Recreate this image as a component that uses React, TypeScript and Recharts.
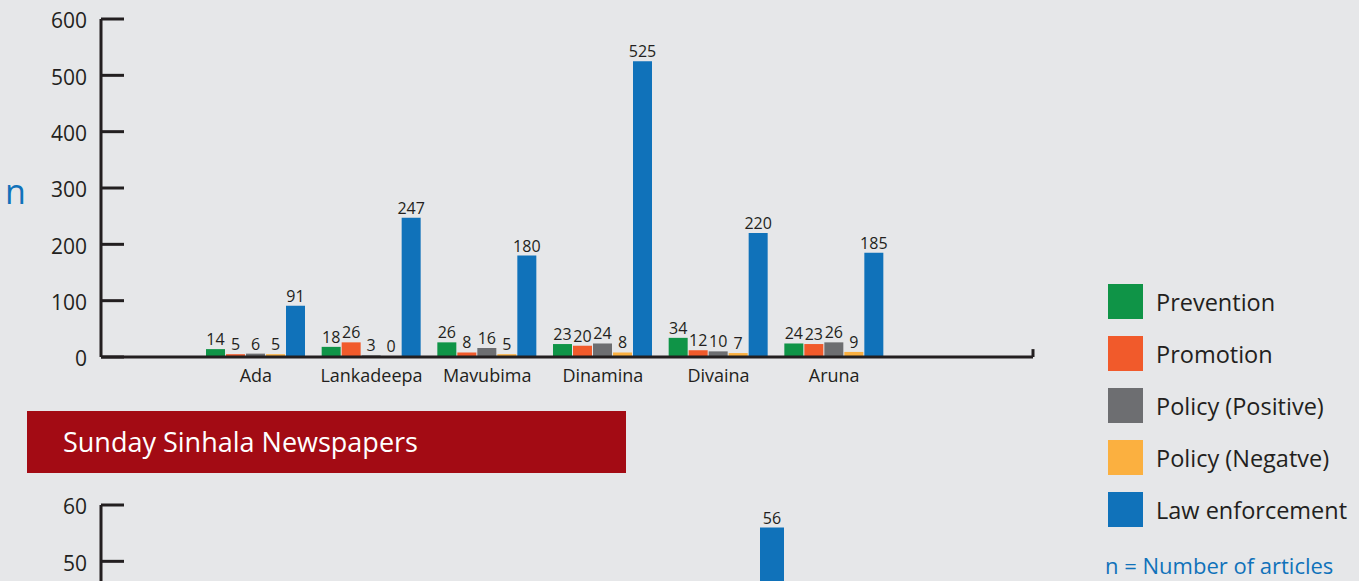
import React from 'react';
import { BarChart, Bar, XAxis, YAxis, LabelList, Legend, ReferenceLine } from 'recharts';

// ---- Data (Daily Sinhala newspapers) ----
const categories = ['Ada', 'Lankadeepa', 'Mavubima', 'Dinamina', 'Divaina', 'Aruna'];
const prevention = [14, 18, 26, 23, 34, 24];
const promotion = [5, 26, 8, 20, 12, 23];
const policyPositive = [6, 3, 16, 24, 10, 26];
const policyNegative = [5, 0, 5, 8, 7, 9];
const lawEnforcement = [91, 247, 180, 525, 220, 185];
const yTicks = [0, 100, 200, 300, 400, 500, 600];

const seriesKeys = ['prevention', 'promotion', 'policyPositive', 'policyNegative', 'lawEnforcement'];
const seriesNames = ['Prevention', 'Promotion', 'Policy (Positive)', 'Policy (Negatve)', 'Law enforcement'];
const seriesColors = ['#0f9447', '#f15a2b', '#6d6e71', '#fbb040', '#1072ba'];

// ---- Data (Sunday Sinhala newspapers, only the visible part) ----
const sundayCategories = ['Sunday'];
const sundayLawEnforcement = [56];
const sundayTicks = [50, 60];

const topData = categories.map((name, i) => ({
  name,
  idx: i,
  prevention: prevention[i],
  promotion: promotion[i],
  policyPositive: policyPositive[i],
  policyNegative: policyNegative[i],
  lawEnforcement: lawEnforcement[i],
}));

const sundayData = sundayCategories.map((name, i) => ({
  name,
  lawEnforcement: sundayLawEnforcement[i],
}));

const INK = '#231f20';
const BLUE = '#1072ba';
const FONT = '"Open Sans", "Noto Sans", sans-serif';
const Y_TICK_MARGIN = 14;
const Y_TICK_LEN = 23;

const YTick = (props: any) => {
  const { x, y, payload } = props;
  const axisX = x + Y_TICK_MARGIN;
  return (
    <g>
      <line x1={axisX} x2={axisX + Y_TICK_LEN} y1={y} y2={y} stroke={INK} strokeWidth={3} />
      <text x={x} y={y} dy="0.45em" textAnchor="end" fill={INK} fontSize={21} fontFamily={FONT}>
        {payload.value}
      </text>
    </g>
  );
};

const LegendContent = (props: any) => {
  const payload = [...(props.payload || [])].sort(
    (a: any, b: any) => seriesNames.indexOf(a.value) - seriesNames.indexOf(b.value)
  );
  return (
    <div style={{ fontFamily: FONT }}>
      {payload.map((entry: any, i: number) => (
        <div key={i} style={{ display: 'flex', alignItems: 'center', height: 35, marginBottom: 17 }}>
          <div style={{ width: 35, height: 35, background: entry.color, marginRight: 13 }} />
          <span style={{ fontSize: 23.5, color: INK, whiteSpace: 'nowrap' }}>{entry.value}</span>
        </div>
      ))}
      <div
        style={{
          marginTop: 27,
          marginLeft: -3,
          fontSize: 22,
          lineHeight: '22px',
          color: BLUE,
          whiteSpace: 'nowrap',
        }}
      >
        n = Number of articles
      </div>
    </div>
  );
};

export default function App() {
  return (
    <div
      style={{
        position: 'absolute',
        left: 0,
        top: 0,
        width: 1359,
        height: 581,
        overflow: 'hidden',
        background: '#e6e7e9',
        fontFamily: FONT,
      }}
    >
      <div style={{ position: 'absolute', left: 0, top: 0 }}>
        <BarChart
          width={1359}
          height={581}
          data={topData}
          margin={{ top: 19, right: 326, left: 0, bottom: 181 }}
          barGap={1}
          barSize={19}
        >
          <XAxis xAxisId="end" type="number" dataKey="idx" domain={['dataMin', 'dataMax']} hide />
          <XAxis
            xAxisId="cat"
            dataKey="name"
            height={43}
            padding={{ left: 97, right: 141 }}
            axisLine={{ stroke: INK, strokeWidth: 3 }}
            tickLine={false}
            tickSize={0}
            tickMargin={12}
            tick={{ fill: INK, fontSize: 18, fontFamily: FONT }}
            interval={0}
          />
          <YAxis
            width={101}
            domain={[0, 600]}
            ticks={yTicks}
            interval={0}
            axisLine={{ stroke: INK, strokeWidth: 3 }}
            tickLine={false}
            tickSize={0}
            tickMargin={Y_TICK_MARGIN}
            tick={<YTick />}
            label={{ value: 'n', position: 'insideLeft', offset: 5, dy: 4, fill: BLUE, fontSize: 34, fontFamily: FONT }}
          />
          <Legend
            layout="vertical"
            align="center"
            verticalAlign="middle"
            content={<LegendContent />}
            wrapperStyle={{ left: 1108, top: 284, width: 250 }}
          />
          {seriesKeys.map((key, i) => (
            <Bar
              key={key}
              xAxisId="cat"
              dataKey={key}
              name={seriesNames[i]}
              fill={seriesColors[i]}
              minPointSize={1}
              isAnimationActive={false}
            >
              <LabelList dataKey={key} position="top" offset={4} fill={INK} fontSize={16} fontFamily={FONT} />
            </Bar>
          ))}
          <ReferenceLine
            xAxisId="end"
            segment={[{ x: topData.length - 1, y: 0 }, { x: topData.length - 1, y: 14 }]}
            stroke={INK}
            strokeWidth={3}
            ifOverflow="visible"
          />
        </BarChart>
      </div>

      <div
        style={{
          position: 'absolute',
          left: 27,
          top: 411,
          width: 599,
          height: 62,
          background: '#a30b14',
          color: '#ffffff',
          fontSize: 27,
          lineHeight: '62px',
          paddingLeft: 36,
          boxSizing: 'border-box',
          fontFamily: FONT,
          whiteSpace: 'nowrap',
        }}
      >
        Sunday Sinhala Newspapers
      </div>

      <div style={{ position: 'absolute', left: 0, top: 486 }}>
        <BarChart
          width={1359}
          height={400}
          data={sundayData}
          margin={{ top: 19, right: 326, left: 0, bottom: 0 }}
          barSize={24}
        >
          <XAxis
            dataKey="name"
            height={43}
            padding={{ left: 650, right: 240 }}
            axisLine={{ stroke: INK, strokeWidth: 3 }}
            tickLine={false}
            tick={false}
          />
          <YAxis
            width={101}
            domain={[0, 60]}
            ticks={sundayTicks}
            interval={0}
            axisLine={{ stroke: INK, strokeWidth: 3 }}
            tickLine={false}
            tickSize={0}
            tickMargin={Y_TICK_MARGIN}
            tick={<YTick />}
          />
          <Bar dataKey="lawEnforcement" fill={BLUE} isAnimationActive={false}>
            <LabelList dataKey="lawEnforcement" position="top" offset={4} fill={INK} fontSize={16} fontFamily={FONT} />
          </Bar>
        </BarChart>
      </div>
    </div>
  );
}
